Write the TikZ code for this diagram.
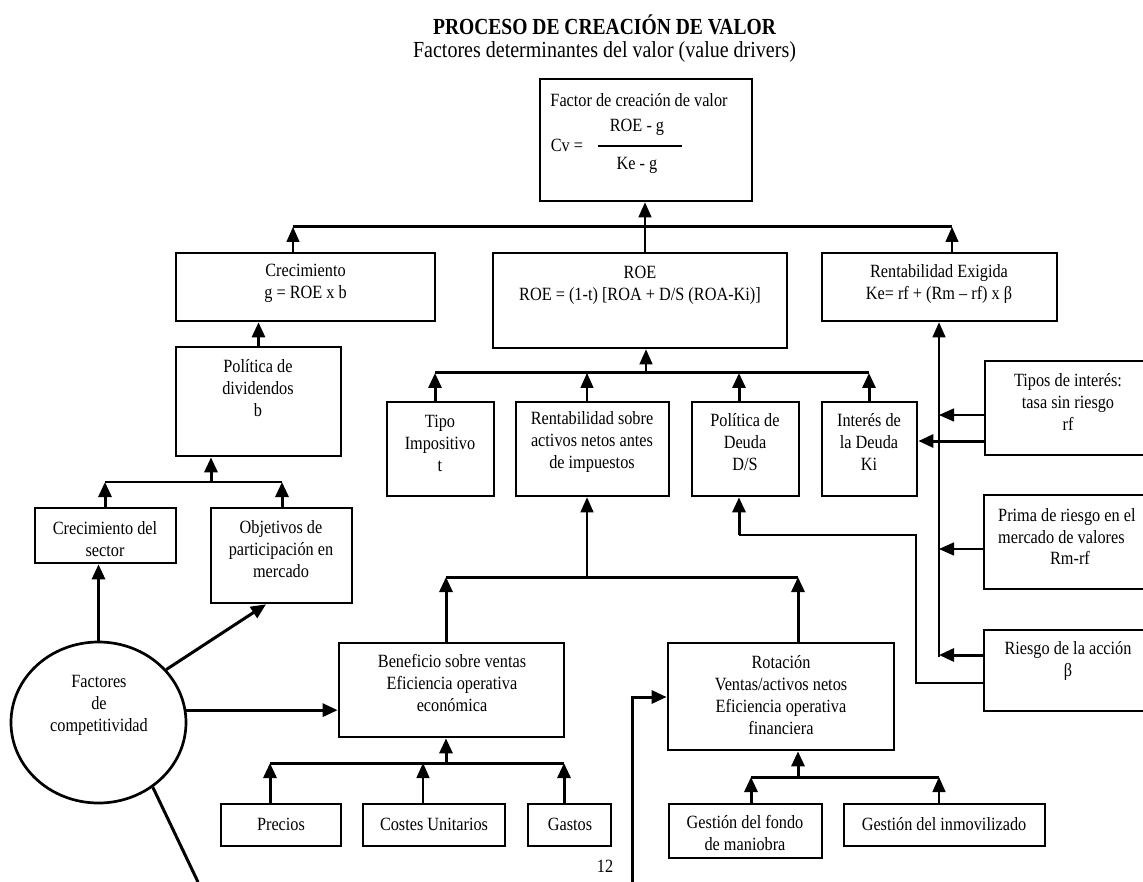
\documentclass[tikz,border=0pt]{standalone}
\usepackage{fontspec}
\setmainfont[FakeStretch=0.87]{Liberation Serif}
\newfontfamily\titlefont[FakeStretch=0.85]{Liberation Serif}
\usetikzlibrary{arrows.meta,shapes.geometric}
\newcommand\mkbox[5]{\node[box,minimum width=#4pt,minimum height=#5pt] (#1) at (#2,#3) {};}
\begin{document}
\begin{tikzpicture}[x=1pt,y=-1pt,
  >={Triangle[width=13pt,length=15pt]},
  box/.style={draw,line width=2.7pt,inner sep=0pt},
  lbl/.style={align=center,inner sep=0pt,font=\fontsize{18.7}{22}\selectfont},
  thk/.style={line width=3pt},
  thn/.style={line width=1.4pt}]
\useasboundingbox (0,0) rectangle (1143,882);

% headings
\node[inner sep=0pt,font=\titlefont\fontsize{23}{26}\selectfont\bfseries] (title) at (604.5,25) {PROCESO DE CREACIÓN DE VALOR};
\node[inner sep=0pt,font=\fontsize{23}{26}\selectfont] (subtitle) at (604.5,52) {Factores determinantes del valor (value drivers)};

% boxes
\mkbox{top}{646}{140}{212}{122}
\mkbox{crec}{305.5}{287}{259}{68}
\mkbox{roe}{640}{300.5}{294}{95}
\mkbox{rexig}{939.5}{287}{235}{68}
\mkbox{pol}{258.5}{401.5}{165}{109}
\mkbox{tipo}{440.5}{449}{107}{94}
\mkbox{rsobre}{592.5}{449}{153}{94}
\mkbox{pdeuda}{745.5}{449}{107}{94}
\mkbox{interes}{869.5}{449}{95}{94}
\mkbox{tipos}{1072.5}{408}{175}{94}
\mkbox{prima}{1072}{542}{176}{94}
\mkbox{riesgo}{1072}{670.5}{176}{81}
\mkbox{crecsec}{105.5}{535.5}{141}{55}
\mkbox{objetivos}{281.5}{555.5}{141}{95}
\mkbox{benef}{451.5}{690}{225}{94}
\mkbox{rotacion}{781}{696.5}{226}{107}
\mkbox{precios}{281}{825}{120}{42}
\mkbox{costes}{434}{825}{142}{42}
\mkbox{gastos}{569.5}{825}{83}{42}
\mkbox{fondo}{745.5}{831}{153}{54}
\mkbox{inmov}{944.5}{825}{201}{42}
\node[ellipse,draw,line width=2.7pt,inner sep=0pt,minimum width=175pt,minimum height=161pt] (circ) at (98.5,722.5) {};

% texts inside the boxes
\node[lbl] (top-t) at (639,100) {Factor de creación de valor};
\node[lbl] (top-num) at (637,127) {ROE - g};
\node[lbl] (top-den) at (637,165) {Ke - g};
\node[lbl] (top-cv) at (567,145) {Cv =};
\coordinate (fracL) at (598,146);
\coordinate (fracR) at (682,146);
\draw[line width=1.2pt] (fracL) -- (fracR);
\node[lbl] (crec-t) at (305.5,283.5) {Crecimiento\\g = ROE x b};
\node[lbl] (roe-t) at (640,285.5) {ROE\\ROE = (1-t) [ROA + D/S (ROA-Ki)]};
\node[lbl] (rexig-t) at (939,284) {Rentabilidad Exigida\\Ke= rf + (Rm – rf) x β};
\node[lbl] (pol-t) at (258,388.5) {Política de\\dividendos\\b};
\node[lbl] (tipo-t) at (440,443) {Tipo\\Impositivo\\t};
\node[lbl] (rsobre-t) at (592,442) {Rentabilidad sobre\\activos netos antes\\de impuestos};
\node[lbl] (pdeuda-t) at (745,442) {Política de\\Deuda\\D/S};
\node[lbl] (interes-t) at (869,442) {Interés de\\la Deuda\\Ki};
\node[lbl] (tipos-t) at (1068,402) {Tipos de interés:\\tasa sin riesgo\\rf};
\node[lbl,align=left,anchor=west] (prima-t) at (998,526) {Prima de riesgo en el\\mercado de valores};
\node[lbl] (prima-t2) at (1070,558) {Rm-rf};
\node[lbl] (riesgo-t) at (1068,661) {Riesgo de la acción\\β};
\node[lbl] (crecsec-t) at (105,539) {Crecimiento del\\sector};
\node[lbl] (objetivos-t) at (281,549) {Objetivos de\\participación en\\mercado};
\node[lbl] (circ-t) at (99,705.5) {Factores\\de\\competitividad};
\node[lbl] (benef-t) at (452,683) {Beneficio sobre ventas\\Eficiencia operativa\\económica};
\node[lbl] (rotacion-t) at (781,695) {Rotación\\Ventas/activos netos\\Eficiencia operativa\\financiera};
\node[lbl] (precios-t) at (281,824) {Precios};
\node[lbl] (costes-t) at (434,824) {Costes Unitarios};
\node[lbl] (gastos-t) at (570,824) {Gastos};
\node[lbl] (fondo-t) at (745,833.5) {Gestión del fondo\\de maniobra};
\node[lbl] (inmov-t) at (944,824) {Gestión del inmovilizado};
\node[lbl] (page) at (605,866) {12};

% top level: growth, ROE and required return feed the value factor
\coordinate (bA1) at (293,227);
\coordinate (bA2) at (952,227);
\coordinate (bAm) at (645,227);
\draw[thk] (bA1) -- (bA2);
\draw[thn,->] (crec.north -| bA1) -- (bA1);
\draw[thn,->] (rexig.north -| bA2) -- (bA2);
\draw[thn] (roe.north -| bAm) -- (bAm);
\draw[thn,->] (bAm) -- (top.south -| bAm);

% dividend policy
\draw[thk,->] (pol.north) -- (crec.south -| pol.north);
\coordinate (bB1) at (105,482);
\coordinate (bB2) at (282,482);
\coordinate (bBm) at (211,482);
\draw[thn] (bB1) -- (bB2);
\draw[thk,->] (crecsec.north -| bB1) -- (bB1);
\draw[thk,->] (objetivos.north -| bB2) -- (bB2);
\draw[thk,->] (bBm) -- (pol.south -| bBm);

% competitiveness factors
\coordinate (exitA) at (198,882);
\draw[thk,->] (circ.north) -- (crecsec.south -| circ.north);
\draw[thk,->] (circ.38) -- ([xshift=-15.5pt]objetivos.south);
\draw[thk,->] (circ.8) -- (benef.west |- circ.8);
\draw[thk] (circ.-50) -- (exitA);

% ROE components
\coordinate (bC1) at (435,373);
\coordinate (bC2) at (869,373);
\coordinate (bCm) at (646,373);
\coordinate (bCr) at (587,373);
\coordinate (bCd) at (739,373);
\draw[thk] (bC1) -- (bC2);
\draw[thk,->] (tipo.north -| bC1) -- (bC1);
\draw[thn,->] (rsobre.north -| bCr) -- (bCr);
\draw[thk,->] (pdeuda.north -| bCd) -- (bCd);
\draw[thk,->] (interes.north -| bC2) -- (bC2);
\draw[thn,->] (bCm) -- (roe.south -| bCm);

% return on assets: margin and turnover
\coordinate (bD1) at (446,577);
\coordinate (bD2) at (798,577);
\coordinate (bDm) at (587,577);
\draw[thk] (bD1) -- (bD2);
\draw[thk,->] (benef.north -| bD1) -- (bD1);
\draw[thk,->] (rotacion.north -| bD2) -- (bD2);
\draw[thn,->] (bDm) -- (rsobre.south -| bDm);

% margin drivers
\coordinate (bE1) at (270,763);
\coordinate (bE2) at (564,763);
\coordinate (bEc) at (423,763);
\coordinate (bEm) at (446,763);
\draw[thk] (bE1) -- (bE2);
\draw[thk,->] (precios.north -| bE1) -- (bE1);
\draw[thn,->] (costes.north -| bEc) -- (bEc);
\draw[thk,->] (gastos.north -| bE2) -- (bE2);
\draw[thk,->] (bEm) -- (benef.south -| bEm);

% turnover drivers
\coordinate (bF1) at (751,777);
\coordinate (bF2) at (939,777);
\coordinate (bFm) at (798,777);
\draw[thk] (bF1) -- (bF2);
\draw[thk,->] (fondo.north -| bF1) -- (bF1);
\draw[thn,->] (inmov.north -| bF2) -- (bF2);
\draw[thk,->] (bFm) -- (rotacion.south -| bFm);

% market inputs to the required return
\coordinate (vBot) at (939,657);
\coordinate (vT) at (939,415);
\coordinate (yKi) at (0,441);
\coordinate (vP) at (939,549);
\coordinate (vR) at (939,655);
\draw[thn,->] (vBot) -- (rexig.south -| vBot);
\draw[thn,->] (tipos.west |- vT) -- (vT);
\draw[thk,->] (tipos.west |- yKi) -- (interes.east |- yKi);
\draw[thn,->] (prima.west |- vP) -- (vP);
\draw[thk,->] (riesgo.west |- vR) -- (vR);

% beta to debt policy
\coordinate (dA) at (916,683);
\coordinate (dB) at (916,535);
\coordinate (dC) at (739,535);
\draw[thn] (riesgo.west |- dA) -- (dA) -- (dB) -- (dC);
\draw[thk,->] (dC) -- (pdeuda.south -| dC);

% turnover input from below
\coordinate (exitB) at (632,882);
\coordinate (rIn) at (632,697);
\draw[thk,->] (exitB) -- (rIn) -- (rotacion.west |- rIn);
\end{tikzpicture}
\end{document}
